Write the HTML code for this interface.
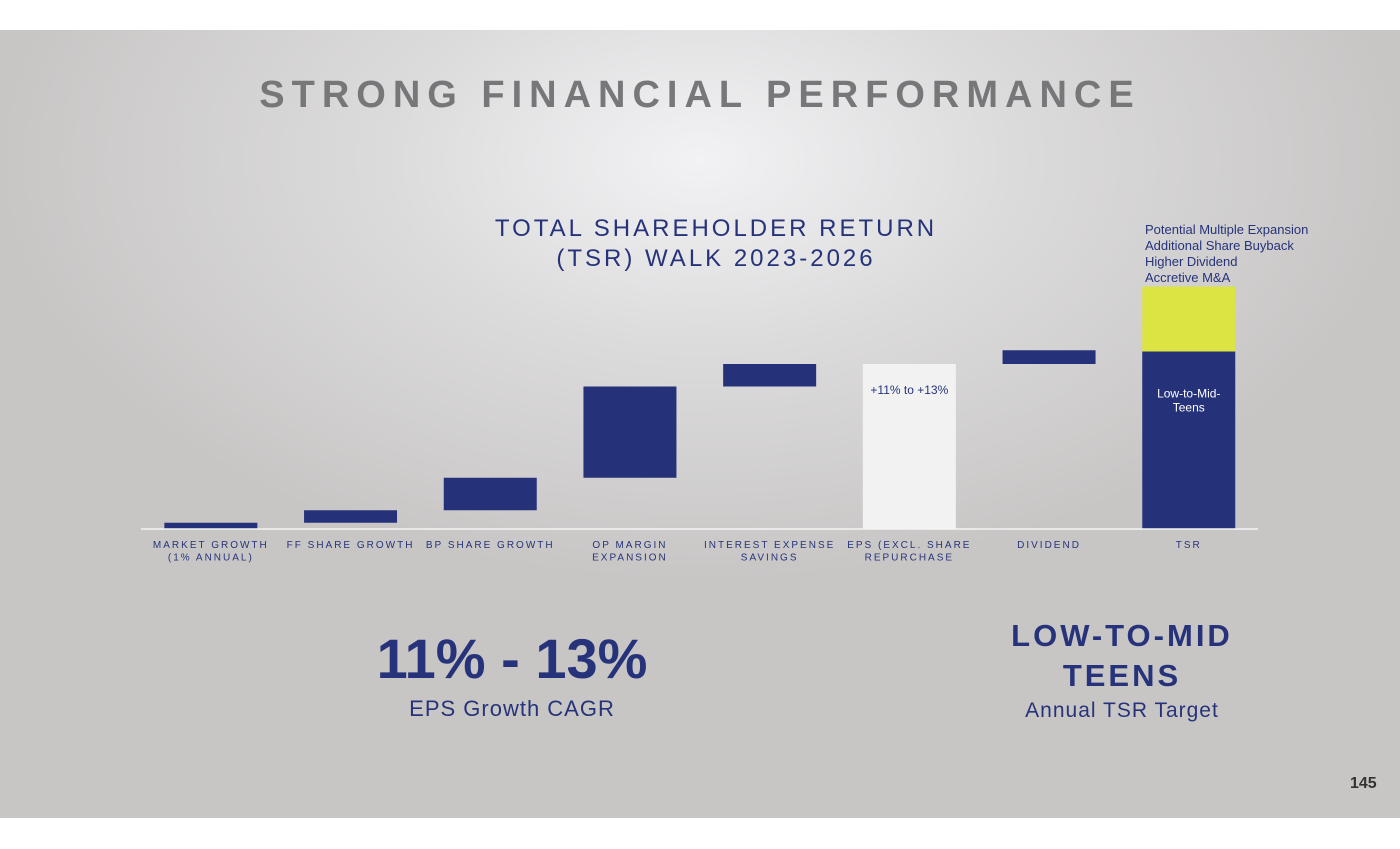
<!DOCTYPE html>
<html><head><meta charset="utf-8"><style>
body{margin:0;width:1400px;height:849px;background:#fff;font-family:"Liberation Sans",sans-serif;overflow:hidden;position:relative}
#slide{position:absolute;left:0;top:30px;width:1400px;height:788px;background:radial-gradient(ellipse 700px 420px at 700px 130px,#f2f2f4 0%,#dcdbdc 45%,#c8c6c5 100%)}
.t{position:absolute;text-align:center;white-space:nowrap}
</style></head><body>
<div id="slide"></div>
<div class="t" style="left:0;width:1400px;top:74px;font-size:38px;font-weight:bold;letter-spacing:7px;color:#77777a">STRONG FINANCIAL PERFORMANCE</div>
<div class="t" style="left:416px;width:600px;top:214px;font-size:24px;letter-spacing:3px;color:#26337a;line-height:30px">TOTAL SHAREHOLDER RETURN<br>(TSR) WALK 2023-2026</div>
<div class="t" style="left:1145px;top:222px;font-size:13px;color:#26337a;text-align:left;line-height:16px">Potential Multiple Expansion<br>Additional Share Buyback<br>Higher Dividend<br>Accretive M&amp;A</div>
<svg id="chart" width="1400" height="849" style="position:absolute;left:0;top:0"></svg>
<div class="t" style="left:312px;width:400px;top:626px;font-size:56px;font-weight:bold;color:#26337a">11% - 13%</div>
<div class="t" style="left:312px;width:400px;top:696px;font-size:22px;letter-spacing:1px;color:#26337a">EPS Growth CAGR</div>
<div class="t" style="left:972px;width:300px;top:616px;font-size:31px;font-weight:bold;letter-spacing:3px;color:#26337a;line-height:40px">LOW-TO-MID<br>TEENS</div>
<div class="t" style="left:972px;width:300px;top:699px;font-size:21px;letter-spacing:1px;color:#26337a">Annual TSR Target</div>
<div class="t" style="left:1350px;top:775px;font-size:16px;font-weight:bold;color:#333">145</div>
<script>
const categories=["MARKET GROWTH|(1% ANNUAL)","FF SHARE GROWTH","BP SHARE GROWTH","OP MARGIN|EXPANSION","INTEREST EXPENSE|SAVINGS","EPS (EXCL. SHARE|REPURCHASE","DIVIDEND","TSR"];
const increments=[0.5,1.0,2.6,7.3,1.8];
const epsTotal=13.2;
const dividend=1.1;
const tsrBase=14.2;
const tsrUpside=5.2;
const epsLabel="+11% to +13%";
const tsrLabel="Low-to-Mid-|Teens";
const svg=document.getElementById('chart');
const NS="http://www.w3.org/2000/svg";
const base=529, ppu=12.5, x0=141, step=139.7, bw=93;
const y=v=>base-v*ppu;
const cx=i=>x0+step*(i+0.5);
function rect(i,a,b,fill,name){const r=document.createElementNS(NS,'rect');
r.setAttribute('x',cx(i)-bw/2);r.setAttribute('y',y(Math.max(a,b)));r.setAttribute('width',bw);r.setAttribute('height',Math.abs(b-a)*ppu);r.setAttribute('fill',fill);


svg.appendChild(r);}
function text(x,yy,s,size,fill,name,ls){const t=document.createElementNS(NS,'text');t.setAttribute('x',x);t.setAttribute('y',yy);t.setAttribute('text-anchor','middle');t.setAttribute('font-size',size);t.setAttribute('fill',fill);t.setAttribute('font-family','Liberation Sans, sans-serif');if(ls)t.setAttribute('letter-spacing',ls);t.textContent=s;


svg.appendChild(t);}
let cum=0;
increments.forEach((v,i)=>{rect(i,cum,cum+v,'#25327a','bar-'+i);cum+=v;});
rect(5,0,epsTotal,'#f2f2f2','bar-eps');
rect(6,epsTotal,epsTotal+dividend,'#25327a','bar-dividend');
rect(7,0,tsrBase,'#25327a','bar-tsr');
rect(7,tsrBase,tsrBase+tsrUpside,'#dbe443','bar-tsr-upside');
text(cx(5),y(epsTotal)+30,epsLabel,12,'#26337a','eps-bar-label');
tsrLabel.split('|').forEach((s,k)=>text(cx(7),y(tsrBase)+46+k*14,s,12,'#fff','tsr-bar-label'));
const ax=document.createElementNS(NS,'line');ax.setAttribute('x1',141);ax.setAttribute('x2',1258);ax.setAttribute('y1',base);ax.setAttribute('y2',base);ax.setAttribute('stroke','#f4f4f4');ax.setAttribute('stroke-width',1.5);


svg.appendChild(ax);
categories.forEach((c,i)=>c.split('|').forEach((s,k)=>text(cx(i),548+k*12.5,s,10,'#26337a','x-tick-label','2')));
</script>
</body></html>
